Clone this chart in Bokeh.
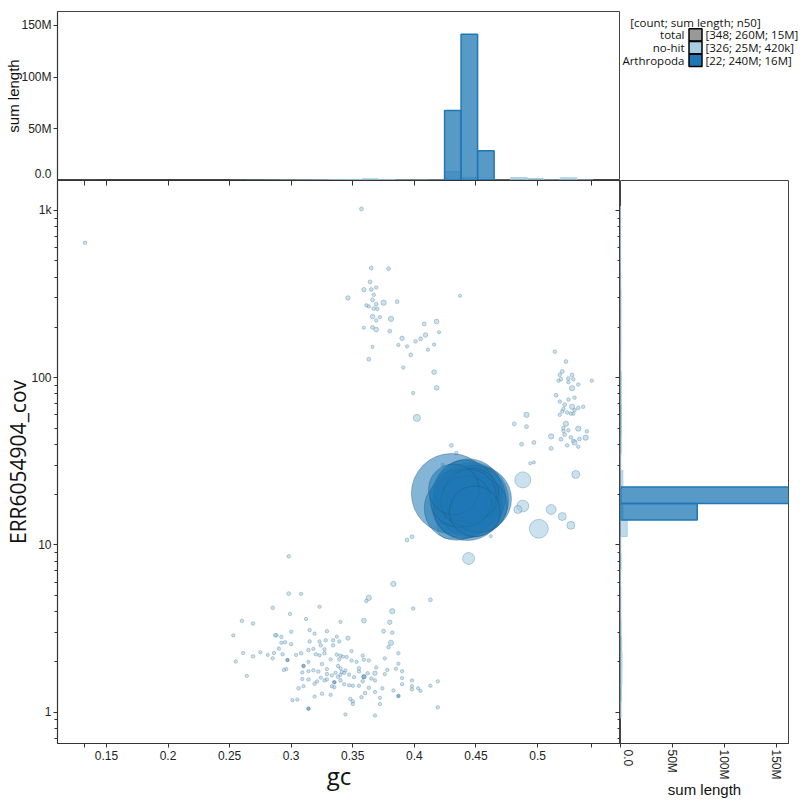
import numpy as np
from bokeh.plotting import figure
from bokeh.layouts import column, row
from bokeh.models import Range1d, FixedTicker, ColumnDataSource, LinearAxis, LogAxis
from bokeh.core.properties import value
from bokeh.embed import file_html
from bokeh.resources import INLINE

# ---------------- data ----------------
group_names = ["total", "no-hit", "Arthropoda"]
group_counts = [348, 326, 22]
group_sums = ["260M", "25M", "240M"]
group_n50 = ["15M", "420k", "16M"]
group_colors = ["#999999", "#a6cee3", "#1f78b4"]

# no-hit contigs: gc, coverage, length (kb)
nohit_gc = [
    # upper-left cluster
    0.357, 0.365, 0.379, 0.364, 0.359, 0.365, 0.369, 0.346, 0.367, 0.366, 0.375, 0.386, 0.361, 0.363,
    0.369, 0.367, 0.370, 0.366, 0.372, 0.369, 0.381, 0.359, 0.366, 0.369, 0.380, 0.390, 0.401, 0.405,
    0.409, 0.408, 0.418, 0.387, 0.394, 0.366, 0.397, 0.411, 0.416, 0.363, 0.391, 0.416, 0.418, 0.399,
    0.402, 0.420, 0.437, 0.1326,
    # right cluster
    0.514, 0.523, 0.520, 0.518, 0.528, 0.525, 0.517, 0.519, 0.529, 0.525, 0.533, 0.544, 0.528, 0.515,
    0.530, 0.525, 0.518, 0.537, 0.522, 0.528, 0.533, 0.521, 0.520, 0.530, 0.524, 0.527, 0.518, 0.529,
    0.491, 0.481, 0.491, 0.523, 0.521, 0.525, 0.521, 0.533, 0.522, 0.540, 0.511, 0.519, 0.527, 0.529,
    0.534, 0.539, 0.530, 0.487, 0.497, 0.524, 0.533, 0.511,
    # middle
    0.430, 0.434, 0.423, 0.494, 0.497, 0.488, 0.531, 0.488, 0.484, 0.511, 0.520, 0.527, 0.501, 0.462,
    0.444, 0.394, 0.398, 0.383, 0.413, 0.428, 0.433, 0.440, 0.436, 0.447,
    # low-coverage cluster
    0.298, 0.298, 0.308, 0.323, 0.285, 0.299, 0.312, 0.340, 0.260, 0.269, 0.253, 0.288, 0.292, 0.300,
    0.315, 0.319, 0.329, 0.292, 0.295, 0.290, 0.300, 0.315, 0.323, 0.328, 0.334, 0.339, 0.346, 0.337,
    0.334, 0.314, 0.318, 0.324, 0.327, 0.349, 0.261, 0.269, 0.275, 0.281, 0.285, 0.286, 0.293, 0.304,
    0.308, 0.314, 0.320, 0.323, 0.327, 0.332, 0.337, 0.340, 0.342, 0.345, 0.339, 0.353, 0.358, 0.359,
    0.363, 0.369, 0.376, 0.380, 0.375, 0.382, 0.381, 0.379, 0.387, 0.387, 0.390, 0.385, 0.378, 0.376,
    0.390, 0.390, 0.383, 0.398, 0.398, 0.398, 0.403, 0.405, 0.413, 0.419, 0.419, 0.399, 0.382, 0.363,
    0.361, 0.359, 0.368, 0.344, 0.301, 0.305, 0.319, 0.332, 0.350, 0.350, 0.372, 0.372, 0.348, 0.357,
    0.360, 0.325, 0.335, 0.310, 0.306, 0.319, 0.327, 0.329, 0.333, 0.340, 0.343, 0.347, 0.350, 0.355,
    0.358, 0.362, 0.365, 0.368, 0.363, 0.374, 0.309, 0.314, 0.321, 0.324, 0.329, 0.333, 0.336, 0.338,
    0.340, 0.341, 0.343, 0.347, 0.351, 0.355, 0.355, 0.349, 0.314, 0.318, 0.322, 0.325, 0.329, 0.338,
    0.340, 0.344, 0.296, 0.294, 0.309, 0.264, 0.255, 0.368, 0.368, 0.287,
]
nohit_cov = [
    1021, 453, 449, 374, 336, 337, 346, 300, 313, 292, 281, 285, 271, 267,
    275, 259, 258, 232, 230, 220, 225, 199, 200, 194, 190, 172, 165, 171,
    180, 210, 217, 157, 154, 153, 137, 147, 158, 129, 115, 108, 87, 81,
    57.5, 187, 309, 641,
    143, 125, 109, 104, 104, 99, 96, 98, 98, 94, 91, 96, 86.5, 78.5,
    76, 74, 72, 67, 69, 67, 66, 65, 63, 64, 62, 61, 60, 61,
    60, 53, 51, 53, 50, 48.5, 48, 49.6, 45.7, 47.8, 44.6, 42.9, 44, 42,
    43, 43.8, 41, 40, 41, 39.4, 38.7, 37.8,
    39.4, 35.5, 30.1, 30.8, 31.2, 24.5, 26.4, 17.1, 16.3, 16.3, 14.8, 13.1, 12.5, 11.3,
    8.3, 10.7, 11.2, 5.85, 4.7, 12.8, 14.5, 13.5, 19.0, 22.0,
    8.55, 5.12, 5.10, 4.27, 4.21, 3.87, 3.61, 3.47, 3.52, 3.39, 2.88, 2.88, 2.82, 3.03,
    3.10, 2.95, 3.05, 2.60, 2.62, 2.40, 2.55, 2.65, 2.65, 2.69, 2.69, 2.65, 2.77, 2.83,
    2.51, 2.35, 2.39, 2.51, 2.38, 2.32, 2.26, 2.16, 2.28, 2.20, 2.10, 2.26, 2.22, 2.20,
    2.25, 2.00, 2.22, 2.19, 2.25, 2.07, 2.21, 2.18, 2.15, 2.14, 2.07, 2.00, 2.18, 2.06,
    2.04, 1.85, 2.10, 3.45, 3.05, 2.99, 2.60, 2.45, 2.25, 1.95, 1.76, 1.82, 1.79, 1.69,
    1.60, 1.47, 1.35, 1.55, 1.43, 1.37, 1.39, 1.34, 1.44, 1.53, 1.07, 4.17, 4.02, 4.83,
    4.63, 3.53, 0.955, 0.97, 1.18, 1.19, 1.24, 1.27, 1.16, 1.12, 1.12, 1.22, 1.20, 1.23,
    1.30, 1.29, 1.41, 1.43, 1.39, 1.48, 1.55, 1.57, 1.43, 1.55, 1.47, 1.45, 1.44, 1.44,
    1.53, 1.71, 1.59, 1.55, 1.40, 1.39, 1.58, 1.57, 1.53, 1.61, 1.69, 1.66, 1.72, 1.63,
    1.67, 1.74, 1.72, 1.68, 1.62, 1.83, 1.75, 2.04, 1.76, 1.78, 1.75, 1.94, 1.81, 1.89,
    1.83, 1.78, 1.81, 1.79, 1.73, 1.65, 2.01, 1.71, 1.32, 2.89,
]
nohit_len_kb = [
    60, 60, 60, 60, 80, 60, 45, 80, 50, 60, 110, 60, 45, 45,
    60, 60, 45, 80, 45, 45, 110, 40, 60, 90, 60, 80, 50, 60,
    80, 60, 90, 45, 45, 40, 60, 45, 45, 60, 45, 90, 90, 45,
    200, 40, 40, 50,
    50, 60, 60, 50, 60, 60, 50, 50, 50, 50, 50, 45, 110, 60,
    50, 50, 50, 50, 60, 110, 50, 50, 50, 50, 50, 50, 50, 50,
    110, 60, 60, 110, 50, 50, 50, 110, 60, 50, 110, 60, 50, 50,
    60, 110, 110, 60, 60, 50, 50, 60,
    60, 50, 40, 40, 40, 1000, 250, 560, 250, 390, 250, 250, 1400, 40,
    560, 60, 60, 110, 60, 2200, 1500, 1200, 800, 600,
    50, 60, 45, 45, 50, 45, 45, 45, 50, 50, 45, 50, 50, 45,
    50, 45, 50, 45, 50, 45, 50, 50, 45, 50, 50, 50, 70, 45,
    50, 50, 45, 50, 45, 45, 45, 50, 45, 40, 45, 45, 45, 45,
    50, 45, 50, 45, 50, 45, 50, 45, 45, 45, 50, 45, 45, 45,
    45, 45, 45, 80, 60, 50, 110, 50, 45, 45, 45, 45, 45, 45,
    45, 45, 45, 45, 45, 50, 45, 45, 45, 45, 50, 50, 110, 110,
    50, 90, 45, 45, 45, 45, 45, 45, 50, 45, 45, 45, 50, 50,
    50, 50, 50, 45, 50, 50, 45, 50, 45, 50, 45, 45, 45, 45,
    50, 50, 50, 45, 50, 45, 45, 50, 45, 45, 50, 45, 45, 50,
    45, 45, 50, 45, 45, 50, 45, 45, 45, 50, 50, 50, 45, 45,
    45, 45, 45, 45, 45, 45, 45, 80, 45, 50,
]

# Arthropoda contigs
arth_gc = [0.430, 0.446, 0.443, 0.444, 0.452, 0.434, 0.448, 0.441, 0.440, 0.436, 0.453, 0.447,
           0.442, 0.432, 0.449, 0.445, 0.297, 0.310, 0.314, 0.335, 0.359, 0.387]
arth_cov = [20.3, 18.6, 17.4, 20.5, 18.8, 16.6, 19.3, 21.0, 16.5, 19.0, 17.3, 20.0,
            18.3, 21.5, 15.9, 19.6, 2.05, 1.89, 1.05, 1.51, 1.63, 1.25]
arth_len_kb = [25000, 22000, 20000, 18000, 17000, 16000, 16000, 15000, 14000, 13000, 12000, 11000,
               10000, 10000, 10000, 11000, 50, 50, 50, 50, 80, 50]

# gc histogram (top): bin left edges and summed length
gc_bin_width = 0.0134
top_nohit_left = [0.1297, 0.2503, 0.2637, 0.2771, 0.2905, 0.3039, 0.3173, 0.3307, 0.3441, 0.3575, 0.3709,
                  0.3843, 0.3977, 0.4111, 0.4245, 0.4379, 0.4513, 0.4647, 0.4781, 0.4915, 0.5049,
                  0.5183, 0.5317]
top_nohit_len = [0.05e6, 0.15e6, 0.25e6, 0.3e6, 0.45e6, 0.5e6, 0.6e6, 0.7e6, 0.8e6, 1.6e6, 0.7e6,
                 0.5e6, 0.5e6, 0.4e6, 8.7e6, 2.9e6, 0.4e6, 0.2e6, 2.9e6, 2.0e6, 0.5e6,
                 2.6e6, 0.5e6]
top_arth_left = [0.4245, 0.4379, 0.4513]
top_arth_len = [67.7e6, 141.6e6, 28.7e6]

# coverage histogram (right): bin edges and summed length
cov_edges = [0.921, 1.156, 1.451, 1.822, 2.287, 2.872, 3.605, 4.526, 5.682, 7.134, 8.957, 11.24,
             14.12, 17.72, 22.25, 27.93, 35.07, 44.03, 55.27, 69.39, 87.12, 109.4, 137.3, 172.4,
             216.4, 271.7, 341.2, 428.3, 537.7, 675.0, 847.4, 1063.8]
right_nohit_len = [0.5e6, 0.9e6, 1.3e6, 1.4e6, 1.1e6, 0.6e6, 0.35e6, 0.35e6, 0.1e6, 0.6e6, 0.25e6,
                   6.4e6, 2.5e6, 0.8e6, 2.2e6, 0.2e6, 0.7e6, 0.9e6, 1.0e6, 0.7e6, 0.7e6, 0.3e6,
                   0.4e6, 0.45e6, 0.5e6, 0.5e6, 0.25e6, 0.12e6, 0.05e6, 0.0, 0.06e6]
right_arth_lo = [14.12, 17.72]
right_arth_hi = [17.72, 22.25]
right_arth_len = [74e6, 166e6]

x_ticks = [0.15, 0.2, 0.25, 0.3, 0.35, 0.4, 0.45, 0.5]
x_tick_labels = ["0.15", "0.2", "0.25", "0.3", "0.35", "0.4", "0.45", "0.5"]
x_extent_ticks = [0.1326, 0.544]
y_ticks = [1, 10, 100, 1000]
y_tick_labels = ["1", "10", "100", "1k"]
len_ticks = [0, 50e6, 100e6, 150e6]
len_tick_labels = ["0.0", "50M", "100M", "150M"]

# ---------------- styling helpers ----------------
TICK_FONT = "Liberation Sans"
AX_COL = "#333333"
y_minor = [m * d for d in [0.1, 1, 10, 100] for m in range(2, 10)]

def style_axis(ax, size="12px"):
    ax.axis_line_color = AX_COL
    ax.axis_line_width = 1.2
    ax.major_tick_line_color = AX_COL
    ax.minor_tick_line_color = AX_COL
    ax.major_label_text_font = TICK_FONT
    ax.major_label_text_font_size = size
    ax.major_label_text_color = "#222222"
    ax.axis_label_text_font_style = "normal"
    ax.axis_label_text_color = "#111111"

def inner_axis(ax, ticks, tick_len, minor_len):
    # an unlabeled frame-edge axis whose ticks point into the plot
    style_axis(ax, "1px")
    ax.major_label_overrides = {t: "" for t in ticks}
    ax.major_label_standoff = 0
    ax.major_tick_out = 0
    ax.minor_tick_out = 0
    ax.major_tick_in = tick_len
    ax.minor_tick_in = minor_len
    if tick_len == 0:
        ax.axis_line_color = None
        ax.major_tick_line_color = None
        ax.minor_tick_line_color = None

x_range = Range1d(0.1103, 0.5673)
y_range = Range1d(0.650, 1511)

# ---------------- main scatter ----------------
main = figure(width=620, height=620, x_range=x_range, y_range=y_range, y_axis_type="log",
              output_backend="svg", toolbar_location=None,
              min_border_left=57, min_border_right=0, min_border_top=0, min_border_bottom=57)
main.xgrid.visible = False
main.ygrid.visible = False
main.outline_line_color = "#444444"

nh_size = 0.016 * np.sqrt(np.array(nohit_len_kb) * 1000.0)
order = np.argsort(-nh_size)
src_nh = ColumnDataSource(dict(x=np.array(nohit_gc)[order], y=np.array(nohit_cov)[order], s=nh_size[order]))
main.scatter("x", "y", size="s", source=src_nh, fill_color="#a6cee3", fill_alpha=0.6,
             line_color="#3b6f94", line_alpha=0.45, line_width=0.7)

ar_size = 0.016 * np.sqrt(np.array(arth_len_kb) * 1000.0)
order = np.argsort(-ar_size)
src_ar = ColumnDataSource(dict(x=np.array(arth_gc)[order], y=np.array(arth_cov)[order], s=ar_size[order]))
main.scatter("x", "y", size="s", source=src_ar, fill_color="#1f78b4", fill_alpha=0.55,
             line_color="#1a4f75", line_alpha=0.45, line_width=0.8)

bx = main.xaxis[0]
style_axis(bx)
bx.ticker = FixedTicker(ticks=x_ticks, minor_ticks=x_extent_ticks)
bx.major_label_overrides = dict(zip(x_ticks, x_tick_labels))
bx.major_tick_out = 4
bx.major_tick_in = 0
bx.minor_tick_out = 4
bx.minor_tick_in = 0
bx.major_label_standoff = 3
bx.axis_label = "gc"
bx.axis_label_text_font = "Open Sans"
bx.axis_label_text_font_size = "24px"
bx.axis_label_standoff = -4

ly = main.yaxis[0]
style_axis(ly)
ly.ticker = FixedTicker(ticks=y_ticks, minor_ticks=y_minor)
ly.major_label_overrides = dict(zip(y_ticks, y_tick_labels))
ly.major_tick_out = 4
ly.major_tick_in = 0
ly.minor_tick_out = 3
ly.minor_tick_in = 0
ly.major_label_standoff = 2
ly.axis_label = "ERR6054904_cov"
ly.axis_label_text_font = "Open Sans"
ly.axis_label_text_font_size = "21px"
ly.axis_label_standoff = -4

ax_top = LinearAxis(ticker=FixedTicker(ticks=x_ticks, minor_ticks=x_extent_ticks))
inner_axis(ax_top, x_ticks, 5, 5)
main.add_layout(ax_top, "above")
ax_rt = LogAxis(ticker=FixedTicker(ticks=y_ticks, minor_ticks=y_minor))
inner_axis(ax_rt, y_ticks, 5, 3)
main.add_layout(ax_rt, "right")

# ---------------- top histogram ----------------
top = figure(width=620, height=180, x_range=x_range, y_range=Range1d(0, 163.5e6),
             output_backend="svg", toolbar_location=None, x_axis_location=None,
             min_border_left=57, min_border_right=0, min_border_top=11, min_border_bottom=0)
top.xgrid.visible = False
top.ygrid.visible = False
top.outline_line_color = "#444444"
top.outline_line_width = 1

tl = np.array(top_nohit_left)
top.quad(left=tl, right=tl + gc_bin_width, bottom=0, top=top_nohit_len,
         fill_color="#a6cee3", fill_alpha=0.75, line_color="#a6cee3", line_width=1)
ta = np.array(top_arth_left)
top.quad(left=ta, right=ta + gc_bin_width, bottom=0, top=top_arth_len,
         fill_color="#1f78b4", fill_alpha=0.75, line_color="#1f78b4", line_width=1.5)

ty = top.yaxis[0]
style_axis(ty)
ty.ticker = FixedTicker(ticks=len_ticks)
ty.major_label_overrides = dict(zip(len_ticks, len_tick_labels))
ty.minor_tick_line_color = None
ty.major_tick_out = 4
ty.major_tick_in = 0
ty.major_label_standoff = 2
ty.axis_label = "sum length"
ty.axis_label_text_font = TICK_FONT
ty.axis_label_text_font_size = "15px"
ty.axis_label_standoff = -4
# matching blank right edge so the x scale lines up with the scatter
top_rt = LinearAxis(ticker=FixedTicker(ticks=len_ticks))
inner_axis(top_rt, len_ticks, 0, 0)
top.add_layout(top_rt, "right")

# ---------------- legend panel ----------------
leg = figure(width=180, height=180, x_range=Range1d(0, 180), y_range=Range1d(180, 0),
             output_backend="svg", toolbar_location=None, x_axis_location=None, y_axis_location=None,
             min_border_left=0, min_border_right=0, min_border_top=0, min_border_bottom=0)
leg.xgrid.visible = False
leg.ygrid.visible = False
leg.outline_line_color = None
row_y = [25, 38.5, 52]
LEG_FS = "11.5px"
leg.text(x=[75], y=[12], text=["[count; sum length; n50]"], text_font=value("Open Sans"),
         text_font_size=LEG_FS, text_align="center", text_baseline="middle", text_color="#111111")
leg.text(x=[64] * 3, y=row_y, text=group_names, text_font=value("Open Sans"),
         text_font_size=LEG_FS, text_align="right", text_baseline="middle", text_color="#111111")
leg.rect(x=[75] * 3, y=row_y, width=13, height=13, fill_color=group_colors, fill_alpha=1,
         line_color="black", line_width=1.5)
leg.text(x=[85] * 3, y=row_y,
         text=["[%d; %s; %s]" % (n, s, m) for n, s, m in zip(group_counts, group_sums, group_n50)],
         text_font=value("Open Sans"), text_font_size=LEG_FS, text_align="left",
         text_baseline="middle", text_color="#111111")

# ---------------- right histogram ----------------
right = figure(width=180, height=620, x_range=Range1d(0, 162e6), y_range=y_range, y_axis_type="log",
               output_backend="svg", toolbar_location=None, y_axis_location=None,
               min_border_left=0, min_border_right=12, min_border_top=0, min_border_bottom=57)
right.xgrid.visible = False
right.ygrid.visible = False
right.outline_line_color = "#444444"

ce = np.array(cov_edges)
right.quad(left=0, right=right_nohit_len, bottom=ce[:-1], top=ce[1:],
           fill_color="#a6cee3", fill_alpha=0.75, line_color="#a6cee3", line_width=1)
right.quad(left=0, right=right_arth_len, bottom=right_arth_lo, top=right_arth_hi,
           fill_color="#1f78b4", fill_alpha=0.75, line_color="#1f78b4", line_width=1.5)

rx = right.xaxis[0]
style_axis(rx)
rx.ticker = FixedTicker(ticks=len_ticks)
rx.major_label_overrides = dict(zip(len_ticks, len_tick_labels))
rx.minor_tick_line_color = None
rx.major_tick_out = 4
rx.major_tick_in = 0
rx.major_label_standoff = 2
rx.major_label_orientation = -np.pi / 2
rx.axis_label = "sum length"
rx.axis_label_text_font = TICK_FONT
rx.axis_label_text_font_size = "15px"
rx.axis_label_standoff = -2
# matching blank top edge so the y scale lines up with the scatter
right_top = LinearAxis(ticker=FixedTicker(ticks=len_ticks))
inner_axis(right_top, len_ticks, 0, 0)
right.add_layout(right_top, "above")

layout = column(row(top, leg), row(main, right))
open("out.html", "w").write(file_html(layout, INLINE))
